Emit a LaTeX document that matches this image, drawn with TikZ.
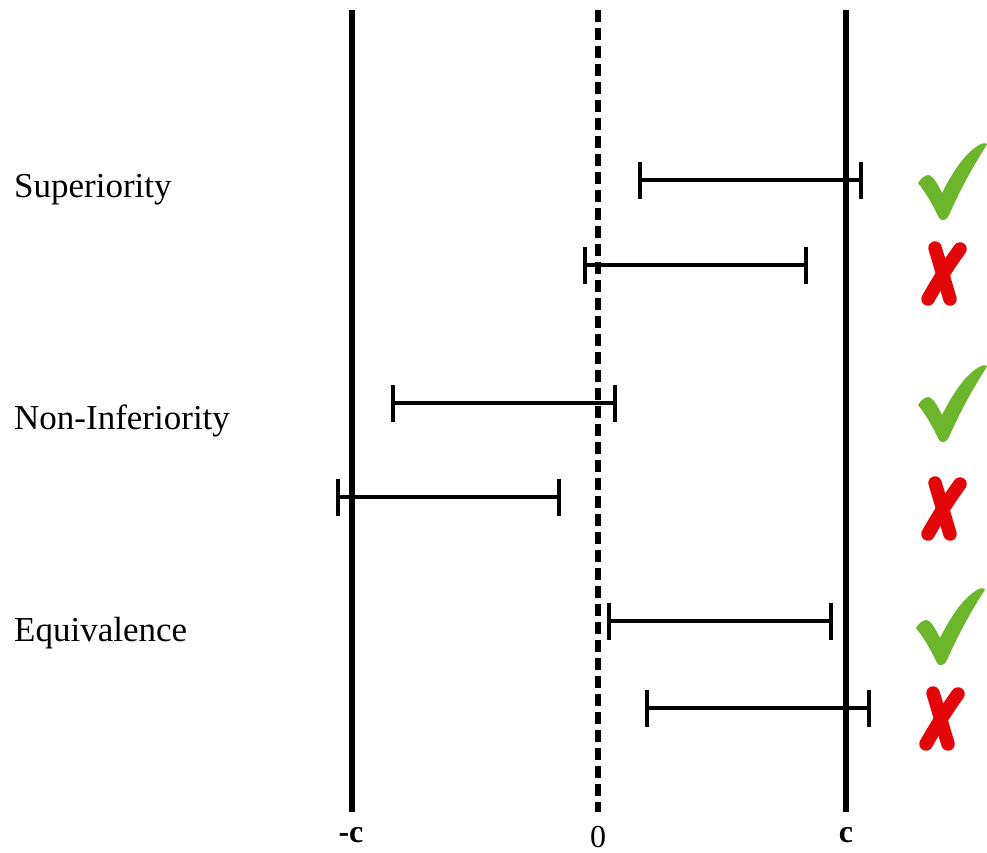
\documentclass[tikz,border=0pt]{standalone}
\usepackage{fontspec}
\setmainfont{Liberation Serif}
\usetikzlibrary{arrows.meta}
\definecolor{checkgreen}{RGB}{108,182,44}
\definecolor{crossred}{RGB}{226,6,8}
\tikzset{
  limitline/.style={line width=5.5pt},
  zeroline/.style={line width=5.5pt, dash pattern=on 12pt off 6pt},
  interval/.style={line width=3.6pt, {Bar[width=37pt,line width=3.6pt]}-{Bar[width=37pt,line width=3.6pt]}},
  rowlabel/.style={anchor=base west, inner sep=0pt, font=\fontsize{35}{40}\selectfont},
  axlabel/.style={anchor=base, inner sep=0pt, font=\fontsize{32}{36}\selectfont},
  checkmark/.pic={
    \fill[checkgreen] (0,40) .. controls (3,35) and (7,32) .. (11,32)
      .. controls (16,34) and (20,42) .. (24,50)
      .. controls (34,30) and (46,12) .. (58,4)
      .. controls (62,1) and (66,-1) .. (69,1)
      .. controls (68,4) and (64,9) .. (60,16)
      .. controls (48,36) and (38,56) .. (31,72)
      .. controls (29,77) and (24,79) .. (21,75)
      .. controls (15,62) and (8,50) .. (0,40) -- cycle;
  },
  crossmark/.pic={
    \draw[crossred, line width=13.5pt, line cap=round] (17,5) .. controls (23,24) and (27,40) .. (32,56);
    \draw[crossred, line width=13.5pt, line cap=round] (42,6) .. controls (31,21) and (19,40) .. (10,56);
  }
}
\begin{document}
\begin{tikzpicture}[x=1pt,y=-1pt]
\useasboundingbox (0,0) rectangle (987,852);
% vertical reference lines
\coordinate (mct) at (352,10); \coordinate (mcb) at (352,812);
\coordinate (zt) at (598,10);  \coordinate (zb) at (598,812);
\coordinate (pct) at (846,10); \coordinate (pcb) at (846,812);
\draw[limitline] (mct) -- (mcb);
\draw[zeroline] (zt) -- (zb);
\draw[limitline] (pct) -- (pcb);
% axis labels
\node[axlabel, font=\fontsize{32}{36}\selectfont\bfseries] (lmc) at (351,842) {-c};
\node[axlabel] (lz) at (598,847) {0};
\node[axlabel, font=\fontsize{32}{36}\selectfont\bfseries] (lpc) at (846,842) {c};
% row labels
\node[rowlabel] (sup) at (14,197) {Superiority};
\node[rowlabel] (noninf) at (14,429) {Non-Inferiority};
\node[rowlabel] (equiv) at (14,641) {Equivalence};
% intervals
\coordinate (a1) at (638,180); \coordinate (b1) at (863,180);
\coordinate (a2) at (583,265); \coordinate (b2) at (808,265);
\coordinate (a3) at (391,403); \coordinate (b3) at (617,403);
\coordinate (a4) at (336,497); \coordinate (b4) at (561,497);
\coordinate (a5) at (607,621); \coordinate (b5) at (833,621);
\coordinate (a6) at (645,708); \coordinate (b6) at (871,708);
\foreach \i in {1,...,6} { \draw[interval] (a\i) -- (b\i); }
% marks
\pic at (918,143) {checkmark};
\pic at (918,243) {crossmark};
\pic at (918,365) {checkmark};
\pic at (918,478) {crossmark};
\pic at (916,588) {checkmark};
\pic at (916,688) {crossmark};
\end{tikzpicture}
\end{document}
